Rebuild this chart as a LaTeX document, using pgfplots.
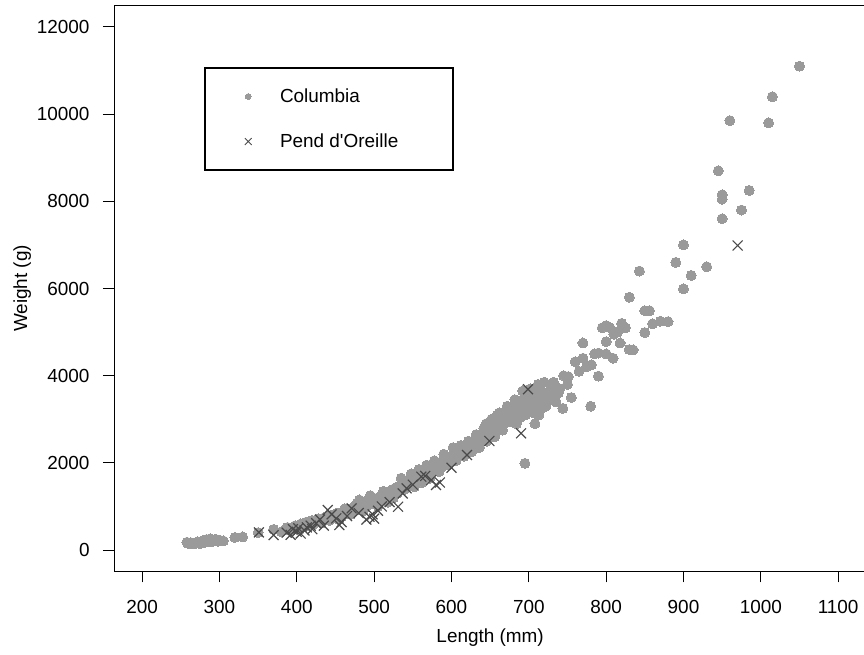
\documentclass[border=0pt]{standalone}
\usepackage{pgfplots}
\pgfplotsset{compat=1.18}
\usepackage{fontspec}
\setmainfont{Liberation Sans}
\definecolor{colgray}{HTML}{9A9A9A}
\definecolor{pendgray}{HTML}{4A4A4A}
\newcommand{\lab}{\fontsize{14.2}{17}\selectfont}
\begin{document}
\begin{tikzpicture}
\begin{axis}[
  at={(85.7pt,62.25pt)}, anchor=south west,
  scale only axis, width=563.8pt, height=423.75pt,
  xmin=164, xmax=1136, ymin=-480, ymax=12480,
  xtick={200,300,...,1100}, ytick={0,2000,...,12000},
  scaled ticks=false,
  tick pos=left, tick align=outside, major tick length=8.6pt,
  every tick/.style={black, line width=0.75pt},
  axis line style={black, line width=0.75pt},
  /pgf/number format/.cd, 1000 sep={}, assume math mode=true, /pgfplots/.cd,
  ticklabel style={font=\lab},
  yticklabel style={anchor=east, inner sep=0pt, xshift=-9.75pt},
  xticklabel style={anchor=north, inner sep=0pt, yshift=-13.5pt},
  xlabel={Length (mm)}, ylabel={Weight (g)},
  every axis x label/.style={at={(axis description cs:0.5,0)}, anchor=center, yshift=-50.25pt, font=\lab},
  every axis y label/.style={at={(axis description cs:0,0.5)}, anchor=center, rotate=90, yshift=69pt, font=\lab},
  legend style={at={(rel axis cs:0.1193,0.892)}, anchor=north west, draw=black, line width=1.4pt,
    inner xsep=30pt, inner ysep=13.5pt, font=\lab, row sep=18pt,
    /tikz/every odd column/.append style={column sep=19.25pt}},
  legend cell align=left,
  clip=false,
]
\addplot[only marks, mark=*, mark size=3.75pt, colgray, mark options={draw=colgray, fill=colgray, line width=0pt},
  legend image post style={mark size=2.2pt}] coordinates {
(258,180)(260,150)(263,170)(266,140)(270,160)(272,190)(275,150)(278,210)(280,170)(283,240)
(285,200)(288,260)(290,190)(292,220)(295,250)(298,200)(300,230)(305,210)(320,290)(330,300)
(350,400)(370,475)(380,420)(385,470)(388,520)(392,450)(395,500)(398,560)(400,480)(403,540)
(405,600)(408,520)(410,580)(412,640)(415,560)(418,620)(420,680)(422,600)(425,650)(428,720)
(430,680)(432,620)(435,740)(438,700)(440,760)(442,680)(445,800)(448,740)(450,780)(452,850)
(455,820)(458,760)(460,880)(462,830)(465,900)(468,860)(470,950)(472,880)(475,1000)(478,930)
(480,1050)(481,1150)(482,980)(485,1100)(488,1020)(490,1080)(492,1150)(495,1050)(498,1120)(500,1180)
(502,1080)(505,1200)(508,1150)(510,1250)(512,1180)(515,1300)(518,1220)(520,1350)(522,1280)(525,1400)
(528,1320)(530,1450)(532,1380)(535,1500)(538,1420)(540,1550)(542,1480)(545,1600)(548,1520)(550,1650)
(552,1580)(555,1700)(558,1620)(560,1750)(562,1680)(565,1800)(568,1720)(570,1850)(572,1780)(575,1900)
(578,1820)(580,1950)(582,1880)(585,2000)(588,1920)(590,2050)(592,1980)(595,2100)(598,2020)(600,2150)
(602,2080)(605,2200)(608,2130)(610,2250)(612,2180)(615,2300)(618,2220)(620,2350)(622,2280)(625,2400)
(628,2450)(630,2380)(632,2500)(635,2550)(638,2480)(640,2600)(642,2650)(645,2700)(645,2900)(648,2620)
(650,2750)(650,2900)(652,2800)(655,2700)(658,2900)(659,3100)(660,2850)(662,2950)(665,3000)(668,2900)
(670,3100)(672,3050)(675,3200)(678,3150)(680,3250)(682,3100)(684,2900)(685,3300)(688,3200)(690,3350)
(690,3050)(692,3450)(695,3250)(695,1990)(698,3400)(700,3500)(700,3200)(702,3300)(705,3600)(708,3400)
(710,3550)(712,3350)(715,3700)(718,3500)(720,3850)(722,3600)(725,3550)(728,3700)(735,3400)(738,3600)
(740,3700)(744,3250)(745,4000)(750,3800)(751,3980)(755,3500)(760,4320)(765,4100)(770,4400)(770,4750)
(775,4210)(780,3300)(781,4250)(785,4500)(790,3990)(790,4520)(795,5100)(800,4500)(800,4780)(800,5150)
(805,5100)(809,4400)(810,4950)(815,5000)(818,4750)(820,5200)(825,5100)(830,5800)(830,4600)(835,4590)
(843,6400)(850,5490)(850,4990)(856,5490)(860,5190)(870,5250)(880,5240)(890,6600)(900,7000)(900,5990)
(910,6300)(930,6500)(945,8700)(950,8150)(950,8050)(950,7600)(960,9850)(975,7800)(985,8250)(1010,9800)
(1015,10400)(1050,11100)
(455,700)(462,950)(470,820)(478,1080)(486,900)(495,1250)(505,1000)(512,1350)(518,1100)(525,1200)
(530,1300)(535,1650)(540,1400)(548,1750)(552,1450)(558,1850)(562,1550)(568,1950)(572,1650)(578,2050)
(584,1800)(590,2200)(596,1950)(602,2350)(606,2050)(612,2400)(616,2150)(622,2500)(626,2250)(632,2650)
(636,2350)(642,2800)(646,2500)(652,3000)(656,2600)(662,3150)(666,2750)(672,3300)(676,2950)(682,3450)
(686,3000)(692,3650)(696,3100)(702,3700)(706,3150)(712,3800)(716,3250)(722,3300)(726,3450)(730,3600)
(732,3850)(708,2900)(713,3100)
};
\addlegendentry{Columbia}
\addplot[only marks, mark=x, mark size=5.25pt, pendgray, mark options={line width=0.9pt},
  legend image post style={mark size=3.6pt, mark options={line width=0.7pt}}] coordinates {
(351,406)(370,344)(387,400)(392,350)(395,480)(400,420)(402,500)(405,380)(410,450)(413,520)
(418,560)(420,480)(425,620)(430,700)(435,560)(440,918)(445,820)(451,727)(455,574)(458,640)
(465,780)(471,957)(480,850)(490,700)(494,765)(498,820)(500,720)(505,900)(510,1000)(520,1100)
(531,994)(537,1300)(542,1416)(550,1500)(561,1683)(566,1700)(574,1607)(580,1492)(585,1550)(600,1890)
(620,2181)(649,2502)(690,2679)(699,3689)(970,6986)
};
\addlegendentry{Pend d\textquotesingle Oreille\hspace*{9.25pt}}
\end{axis}
\pgfresetboundingbox
\path[use as bounding box] (0,0) rectangle (648pt,490.5pt);
\end{tikzpicture}
\end{document}
